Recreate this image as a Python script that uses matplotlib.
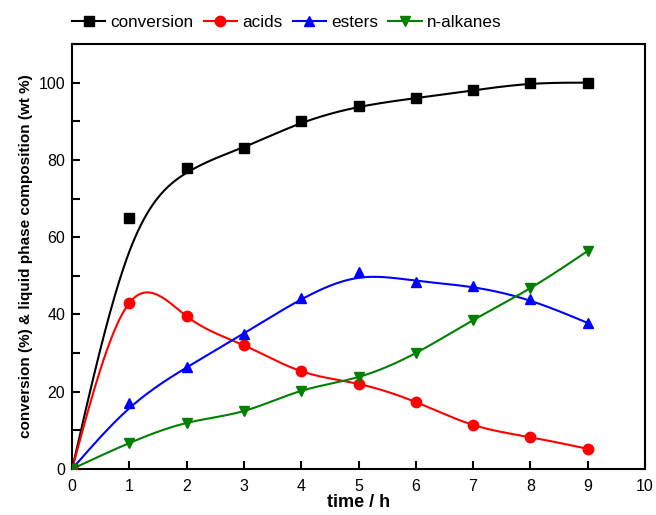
import numpy as np
import matplotlib
matplotlib.use("Agg")
import matplotlib.pyplot as plt
from matplotlib.ticker import MultipleLocator

plt.rcParams['font.family'] = ['Liberation Sans', 'DejaVu Sans']

time_h = [0, 1, 2, 3, 4, 5, 6, 7, 8, 9]
conversion = [0, 65, 78, 83, 90, 94, 96, 98, 100, 100]
acids = [0, 43, 39.5, 32, 25.3, 22, 17.3, 11.4, 8.2, 5.2]
esters = [0, 17, 26.4, 35, 44.3, 51, 48.5, 47.4, 44, 37.8]
n_alkanes = [0, 6.7, 11.9, 15, 20.2, 23.8, 30, 38.5, 46.8, 56.4]


def bspline_curve(x, y, n=60):
    x = np.asarray(x, float); y = np.asarray(y, float)
    def ext(a):
        return np.concatenate([[2 * a[0] - a[1]], a, [2 * a[-1] - a[-2]]])
    X, Y = ext(x), ext(y)
    xs, ys = [], []
    t = np.linspace(0, 1, n)
    b0 = (1 - t) ** 3 / 6
    b1 = (3 * t**3 - 6 * t**2 + 4) / 6
    b2 = (-3 * t**3 + 3 * t**2 + 3 * t + 1) / 6
    b3 = t**3 / 6
    for i in range(len(x) - 1):
        xs.append(b0 * X[i] + b1 * X[i + 1] + b2 * X[i + 2] + b3 * X[i + 3])
        ys.append(b0 * Y[i] + b1 * Y[i + 1] + b2 * Y[i + 2] + b3 * Y[i + 3])
    return np.concatenate(xs), np.concatenate(ys)


def natural_spline(x, y, n=60):
    x = np.asarray(x, float); y = np.asarray(y, float)
    N = len(x)
    h = np.diff(x)
    A = np.zeros((N, N)); r = np.zeros(N)
    A[0, 0] = 1; A[-1, -1] = 1
    for i in range(1, N - 1):
        A[i, i - 1] = h[i - 1]
        A[i, i] = 2 * (h[i - 1] + h[i])
        A[i, i + 1] = h[i]
        r[i] = 6 * ((y[i + 1] - y[i]) / h[i] - (y[i] - y[i - 1]) / h[i - 1])
    M = np.linalg.solve(A, r)
    xs, ys = [], []
    for i in range(N - 1):
        xx = np.linspace(x[i], x[i + 1], n)
        a = (x[i + 1] - xx) / h[i]; b = (xx - x[i]) / h[i]
        yy = a * y[i] + b * y[i + 1] + ((a**3 - a) * M[i] + (b**3 - b) * M[i + 1]) * h[i]**2 / 6
        xs.append(xx); ys.append(yy)
    return np.concatenate(xs), np.concatenate(ys)


fig = plt.figure(figsize=(6.56, 5.15), dpi=100)
ax = fig.add_axes([0.110, 0.0895, 0.873, 0.825])

series = [
    ("conversion", conversion, 'black', 's', 6.5, bspline_curve),
    ("acids", acids, 'red', 'o', 7.5, natural_spline),
    ("esters", esters, 'blue', '^', 7.5, bspline_curve),
    ("n-alkanes", n_alkanes, 'green', 'v', 7.5, natural_spline),
]
handles = []
for name, vals, col, mk, ms, fn in series:
    cx, cy = fn(time_h, vals)
    ax.plot(cx, cy, color=col, lw=1.5, zorder=2)
    ax.plot(time_h, vals, ls='none', marker=mk, color=col, ms=ms, zorder=3)
    h, = ax.plot([], [], color=col, lw=1.5, marker=mk, ms=ms)
    handles.append(h)

ax.set_xlim(0, 10)
ax.set_ylim(0, 110)
ax.xaxis.set_major_locator(MultipleLocator(1))
ax.yaxis.set_major_locator(MultipleLocator(20))
ax.yaxis.set_minor_locator(MultipleLocator(10))
ax.tick_params(direction='in', length=6, width=1.5, labelsize=11.5, top=False, right=False)
ax.tick_params(axis='x', pad=7.5)
ax.tick_params(axis='y', pad=5)
ax.tick_params(which='minor', direction='in', length=6, width=1.5)
for s in ax.spines.values():
    s.set_linewidth(1.5)

ax.set_xlabel('time / h', fontsize=13, fontweight='bold', labelpad=0)
ax.set_ylabel('conversion (%) & liquid phase composition (wt %)', fontsize=11, fontweight='bold', labelpad=4)

fig.legend(handles, [s[0] for s in series], loc='center', bbox_to_anchor=(0.437, 0.957),
           ncol=4, frameon=False, fontsize=12.3, handlelength=1.95, handletextpad=0.3,
           columnspacing=0.6, borderpad=0)

fig.savefig('out.png', dpi=100)
